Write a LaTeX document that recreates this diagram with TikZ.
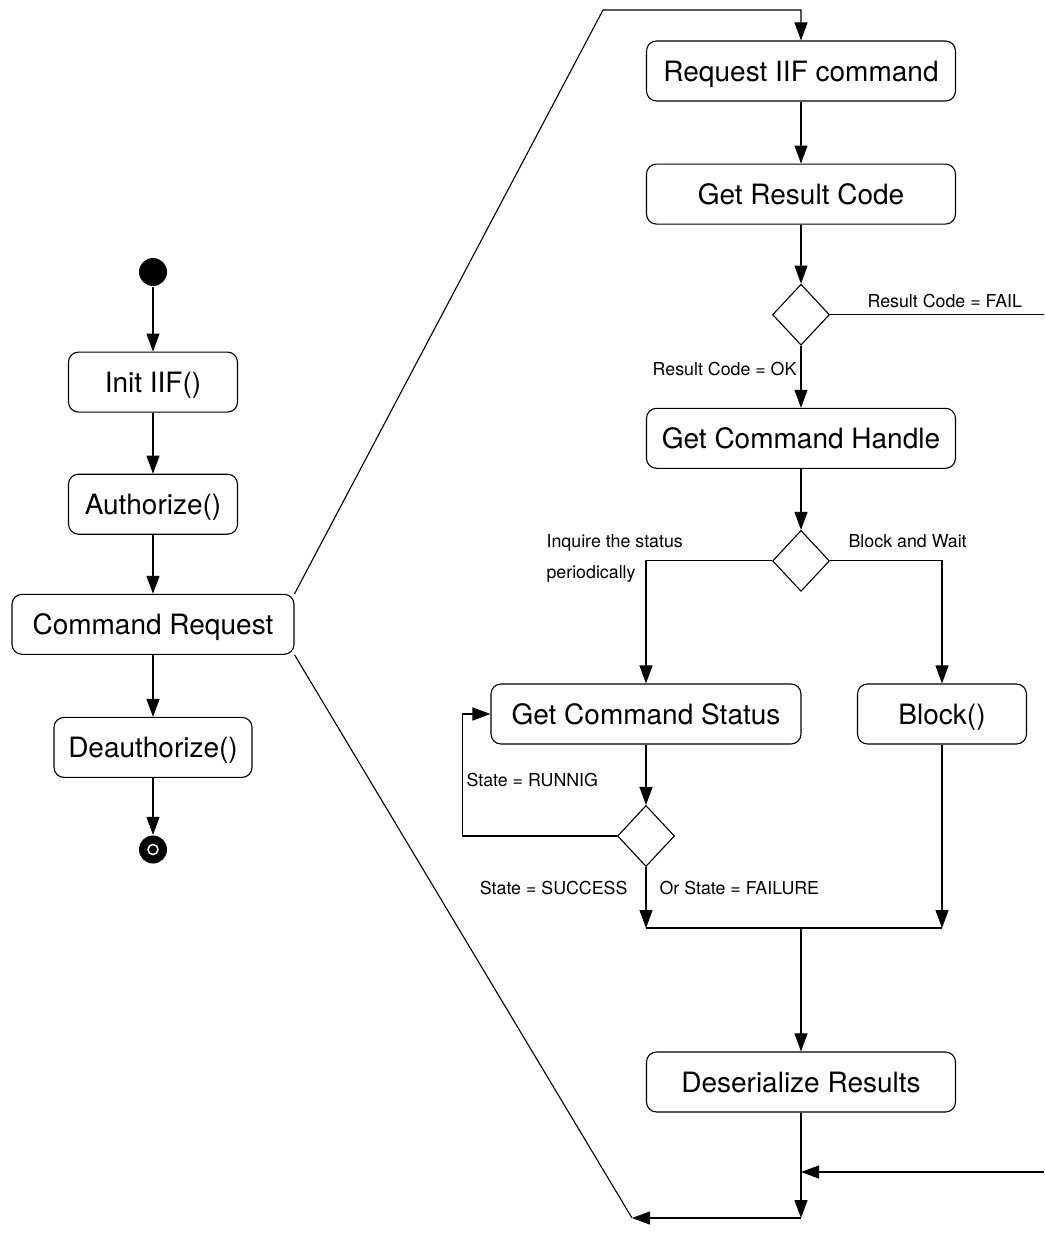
\documentclass[tikz,border=0pt]{standalone}
\usepackage{fontspec}
\setmainfont{TeX Gyre Heros}
\usetikzlibrary{arrows.meta,positioning,shapes.geometric}

\begin{document}
\begin{tikzpicture}[
        x=1pt, y=-1pt,
        line width=1.1pt,
        act/.style={draw, rounded corners=10pt, minimum height=60pt, inner sep=0pt, text height=25.8pt, text depth=5.6pt, font=\fontsize{28}{32}\selectfont},
        dec/.style={draw, diamond, minimum width=57pt, minimum height=61pt, inner sep=0pt},
        dot/.style={circle, fill, minimum size=28pt, inner sep=0pt},
        lbl/.style={inner sep=0pt, align=left, font=\fontsize{17.8}{31}\selectfont},
        arr/.style={-{Triangle[length=18pt, width=13pt]}}
    ]
        \fill[white] (0,0) rectangle (1044,1236);
        \useasboundingbox (0,0) rectangle (1044,1236);

        % main flow
        \node[dot] (start) at (153,272) {};
        \node[act, minimum width=169pt, below=65pt of start] (init) {Init IIF()};
        \node[act, minimum width=169pt, below=61pt of init] (auth) {Authorize()};
        \node[act, minimum width=282pt, below=59pt of auth] (cmd) {Command Request};
        \node[act, minimum width=198pt, below=62pt of cmd] (deauth) {Deauthorize()};
        \node[dot, below=57pt of deauth] (stop) {};
        \draw[white, line width=1.5pt] (stop) circle (5pt);

        \draw[arr] (start) -- (init);
        \draw[arr] (init) -- (auth);
        \draw[arr] (auth) -- (cmd);
        \draw[arr] (cmd) -- (deauth);
        \draw[arr] (deauth) -- (stop);

        % command request in detail
        \node[act, minimum width=309pt] (req) at (801,71) {Request IIF command};
        \node[act, minimum width=309pt, below=62pt of req] (res) {Get Result Code};
        \node[dec, below=59pt of res] (chk) {};
        \node[act, minimum width=309pt, below=62pt of chk] (hdl) {Get Command Handle};
        \node[dec, below=61pt of hdl] (mode) {};
        \node[act, minimum width=310pt] (stat) at (646,714) {Get Command Status};
        \node[act, minimum width=169pt] (blk) at (942,714) {Block()};
        \node[dec] (state) at (646,836) {};
        \node[act, minimum width=309pt] (des) at (801,1082) {Deserialize Results};

        \coordinate (ztop) at (603,10);
        \coordinate (zbot) at (632,1218);
        \coordinate (fout) at (1044,315);
        \coordinate (fin) at (1044,1172);
        \coordinate (fmrg) at (801,1172);
        \coordinate (jl) at (646,928);
        \coordinate (jr) at (942,928);
        \coordinate (jm) at (801,928);
        \coordinate (jend) at (801,1218);

        \draw[arr] (cmd.north east) -- (ztop) -| (req.north);
        \draw (cmd.south east) -- (zbot);

        \draw[arr] (req) -- (res);
        \draw[arr] (res) -- (chk);
        \draw (chk.east) -- (chk.east -| fout);
        \draw[arr] (chk) -- (hdl);
        \draw[arr] (hdl) -- (mode);
        \draw[arr] (mode.west) -| (stat.north);
        \draw[arr] (mode.east) -| (blk.north);
        \draw[arr] (stat) -- (state);
        \draw[arr] (state.west) -| ([xshift=-28pt]stat.west) -- (stat.west);
        \draw[arr] (state.south) -- (jl);
        \draw[arr] (blk.south) -- (jr);
        \draw (jl) -- (jr);
        \draw[arr] (jm) -- (des);
        \draw[arr] (des) -- (jend);
        \draw[arr] (fin) -- (fmrg);
        \draw[arr] (jend) -- (zbot);

        % guard labels
        \node[lbl, anchor=west] (lfail) at (867,301) {Result Code = FAIL};
        \node[lbl, anchor=east] (lok) at (797,369) {Result Code = OK};
        \node[lbl, anchor=west] (lpoll) at (546,558) {Inquire the status\\periodically};
        \node[lbl, anchor=west] (lwait) at (848,541) {Block and Wait};
        \node[lbl, anchor=west] (lrun) at (466,780) {State = RUNNIG};
        \node[lbl, anchor=east] (lsucc) at (628,888) {State = SUCCESS};
        \node[lbl, anchor=west] (lfailure) at (659,888) {Or State = FAILURE};
    \end{tikzpicture}
\end{document}
